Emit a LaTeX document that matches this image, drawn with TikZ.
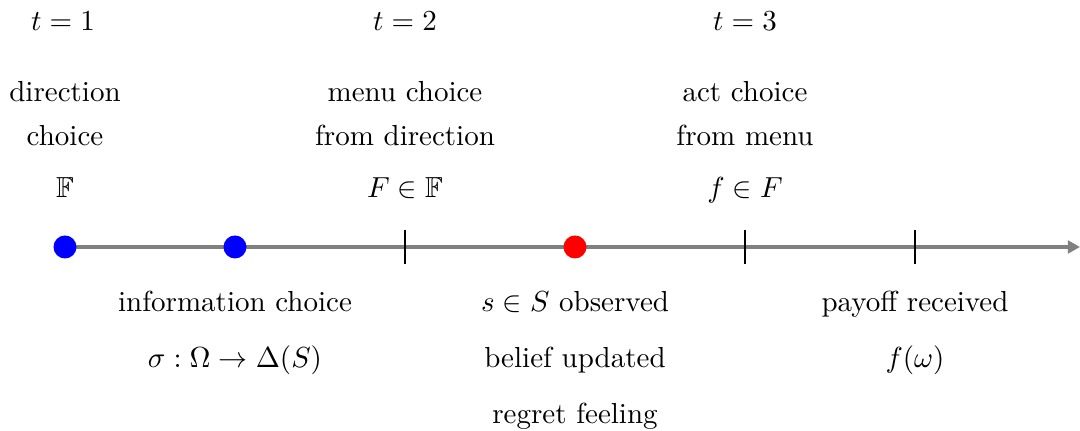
\documentclass[tikz,border=0pt]{standalone}
\usepackage{amssymb}
\usetikzlibrary{arrows.meta}
\begin{document}
\begin{tikzpicture}[x=0.3448pt,y=-0.3448pt,
  lbl/.style={anchor=base,inner sep=0pt,outer sep=0pt},
  dot/.style={circle,inner sep=0pt,minimum size=23*0.3448pt},
  axis/.style={draw=gray,line width=1.2pt,-{Triangle[length=4.2pt,width=4.4pt]}},
  tick/.style={draw=black,line width=0.4pt}]
\useasboundingbox (0,0) rectangle (1080,431);
% axis points
\coordinate (p0) at (65,247);
\coordinate (p1) at (235,247);
\coordinate (p2) at (405,247);
\coordinate (p3) at (575,247);
\coordinate (p4) at (745,247);
\coordinate (p5) at (915,247);
\coordinate (pend) at (1080,247);
\draw[axis] (p0) -- (pend);
\coordinate (t2a) at (405,230); \coordinate (t2b) at (405,264);
\coordinate (t4a) at (745,230); \coordinate (t4b) at (745,264);
\coordinate (t5a) at (915,230); \coordinate (t5b) at (915,264);
\draw[tick] (t2a) -- (t2b);
\draw[tick] (t4a) -- (t4b);
\draw[tick] (t5a) -- (t5b);
\node[dot,fill=blue] (d0) at (p0) {};
\node[dot,fill=blue] (d1) at (p1) {};
\node[dot,fill=red] (d3) at (p3) {};
% top labels
\node[lbl] (T1) at (63,31) {$t=1$};
\node[lbl] (T2) at (405,31) {$t=2$};
\node[lbl] (T3) at (745,31) {$t=3$};
\node[lbl] (a1) at (65,102) {direction};
\node[lbl] (a2) at (65,146) {choice};
\node[lbl] (a3) at (65,198) {$\mathbb{F}$};
\node[lbl] (b1) at (405,102) {menu choice};
\node[lbl] (b2) at (405,146) {from direction};
\node[lbl] (b3) at (405,198) {$F\in\mathbb{F}$};
\node[lbl] (c1) at (745,102) {act choice};
\node[lbl] (c2) at (745,146) {from menu};
\node[lbl] (c3) at (745,198) {$f\in F$};
% bottom labels
\node[lbl] (i1) at (235,312) {information choice};
\node[lbl] (i2) at (235,368) {$\sigma:\Omega\to\Delta(S)$};
\node[lbl] (s1) at (575,312) {$s\in S$ observed};
\node[lbl] (s2) at (575,368) {belief updated};
\node[lbl] (s3) at (575,424) {regret feeling};
\node[lbl] (r1) at (915,312) {payoff received};
\node[lbl] (r2) at (915,368) {$f(\omega)$};
\end{tikzpicture}
\end{document}
